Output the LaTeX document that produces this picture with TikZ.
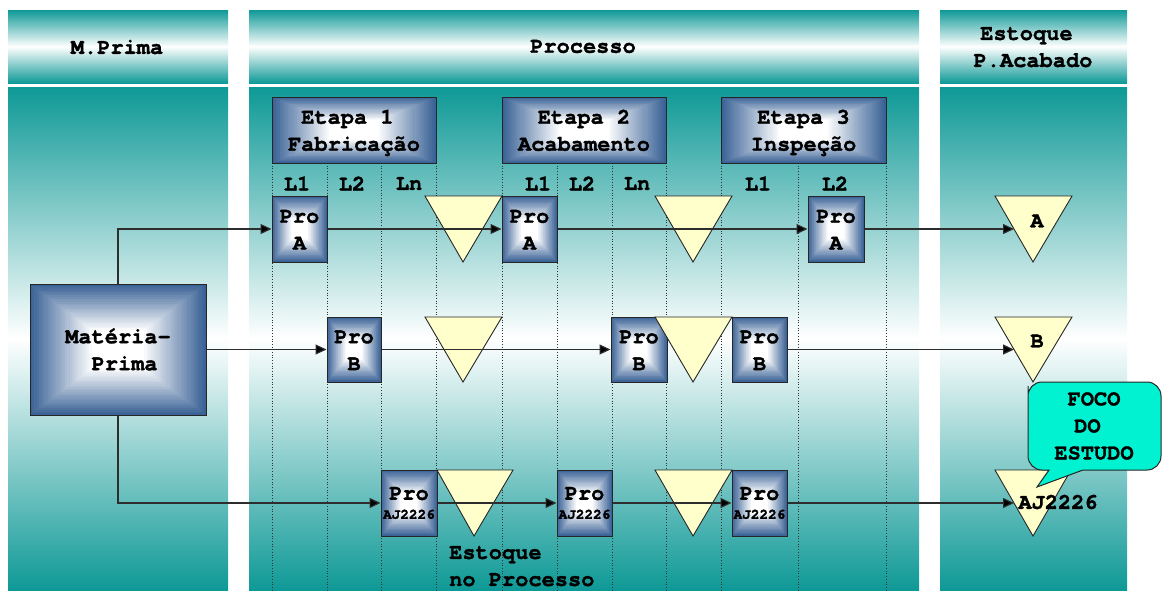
\documentclass[tikz,border=0pt]{standalone}
\usepackage{fontspec}
\setmainfont{TeX Gyre Cursor}[BoldFeatures={FakeBold=1.5}]
\usetikzlibrary{calc,arrows.meta}
\definecolor{tealc}{RGB}{14,153,150}
\definecolor{boxblue}{RGB}{58,98,150}
\definecolor{triy}{RGB}{255,255,204}
\definecolor{aquac}{RGB}{0,242,208}
\definecolor{linec}{RGB}{45,45,45}
\newcommand\tstrut{\rule{0pt}{22.5pt}}
\begin{document}
\begin{tikzpicture}[x=1pt,y=-1pt,
  every node/.style={font=\fontsize{22}{27}\selectfont\bfseries, inner sep=0pt, text=black},
  gbox/.style={draw=black!85, line width=1pt, align=center, path picture={
      \foreach \k in {0,...,39}{
        \pgfmathtruncatemacro\wc{min(100,\k*100/28)}
        \fill[white!\wc!boxblue] ($(path picture bounding box.south west)!\k/40!(path picture bounding box.center)$) rectangle ($(path picture bounding box.north east)!\k/40!(path picture bounding box.center)$);
      }}},
  tri/.style={draw=black!85, line width=0.9pt, fill=triy},
  arr/.style={draw=linec, line width=1.2pt, -{Triangle[length=11pt,width=10pt,fill=black]}},
  vdot/.style={draw=black!80, dotted, line width=0.7pt},
  colshade/.style={top color=tealc, bottom color=tealc, middle color=white}
]
\useasboundingbox (0,0) rectangle (1164,590);
\fill[white] (0,0) rectangle (1164,590);
% headers
\shade[colshade] (8,10) rectangle (228,83);
\shade[colshade] (249,10) rectangle (919,83);
\shade[colshade] (940,10) rectangle (1127,83);
% bodies
\shade[colshade] (8,87) rectangle (228,590);
\shade[colshade] (249,87) rectangle (919,590);
\shade[colshade] (940,87) rectangle (1127,590);
% header texts
\node (hmp) at (117,47) {M.Prima};
\node (hpr) at (583,46.5) {Processo};
\node (hes) at (1033,48) [align=center] {Estoque\phantom{x}\strut\\P.Acabado\strut};
% dotted lane lines
\foreach \x in {272,327,381,436,502,557,612,666,721,798,886}{
  \draw[vdot] (\x,163) -- (\x,590);
}
% stage boxes
\node[gbox, minimum width=164pt, minimum height=66pt] (e1) at (354,130) {Etapa 1\phantom{x}\tstrut\\Fabricação\strut};
\node[gbox, minimum width=164pt, minimum height=66pt] (e2) at (584,130) {Etapa 2\tstrut\\Acabamento\strut};
\node[gbox, minimum width=165pt, minimum height=66pt] (e3) at (803.5,130) {Etapa 3\tstrut\\Inspeção\strut};
% lane labels
\node (l11) at (297,183.5) {L1};
\node (l12) at (352,183.5) {L2};
\node (l1n) at (409,183.5) {Ln};
\node (l21) at (538,183.5) {L1};
\node (l22) at (582,183.5) {L2};
\node (l2n) at (637,183.5) {Ln};
\node (l31) at (758,183.5) {L1};
\node (l32) at (835,183.5) {L2};
% raw material
\node[gbox, minimum width=176pt, minimum height=131pt] (mp) at (118,349.5) {Matéria-\tstrut\\\phantom{x}Prima\strut};
% process boxes
\node[gbox, minimum width=55pt, minimum height=66pt] (pA1) at (299.5,229) {Pro\tstrut\\A\strut};
\node[gbox, minimum width=55pt, minimum height=66pt] (pA2) at (529.5,229) {Pro\tstrut\\A\strut};
\node[gbox, minimum width=56pt, minimum height=66pt] (pA3) at (836,229) {Pro\tstrut\\A\strut};
\node[gbox, minimum width=54pt, minimum height=65pt] (pB1) at (354,349.5) {Pro\tstrut\\B\strut};
\node[gbox, minimum width=56pt, minimum height=65pt] (pB2) at (639,349.5) {Pro\tstrut\\B\strut};
\node[gbox, minimum width=55pt, minimum height=65pt] (pB3) at (759.5,349.5) {Pro\tstrut\\B\strut};
\node[gbox, minimum width=56pt, minimum height=66pt] (pC1) at (409,503) {Pro\\[-8pt]{\fontsize{14.4}{17}\selectfont AJ2226}};
\node[gbox, minimum width=55pt, minimum height=66pt] (pC2) at (584.5,503) {Pro\\[-8pt]{\fontsize{14.4}{17}\selectfont AJ2226}};
\node[gbox, minimum width=55pt, minimum height=66pt] (pC3) at (759.5,503) {Pro\\[-8pt]{\fontsize{14.4}{17}\selectfont AJ2226}};
% inventory triangles
\draw[tri] (425,196) -- (502,196) -- (463,262) -- cycle;
\draw[tri] (655,196) -- (732,196) -- (693,262) -- cycle;
\draw[tri] (995,196) -- (1072,196) -- (1033,262) -- cycle;
\draw[tri] (425,317) -- (502,317) -- (463,382) -- cycle;
\draw[tri] (655,317) -- (732,317) -- (693,382) -- cycle;
\draw[tri] (995,317) -- (1072,317) -- (1033,382) -- cycle;
\draw[tri] (437,470) -- (513,470) -- (474,536) -- cycle;
\draw[tri] (655,470) -- (732,470) -- (693,536) -- cycle;
\draw[tri] (995,470) -- (1071,470) -- (1033,536) -- cycle;
\coordinate (tA) at (1014,229);
\coordinate (tB) at (1014,349.5);
\coordinate (tC) at (1014,503);
% connectors
\draw[arr] (mp.north) |- (pA1.west);
\draw[arr] (pA1.east) -- (pA2.west);
\draw[arr] (pA2.east) -- (pA3.west);
\draw[arr] (pA3.east) -- (tA);
\draw[arr] (mp.east) -- (pB1.west);
\draw[arr] (pB1.east) -- (pB2.west);
\draw[arr] (pB3.east) -- (tB);
\draw[arr] (mp.south) |- (pC1.west);
\draw[arr] (pC1.east) -- (pC2.west);
\draw[arr] (pC2.east) -- (pC3.west);
\draw[arr] (pC3.east) -- (tC);
% final stock labels
\node (sA) at (1037,221) {A};
\node (sB) at (1037,341) {B};
% callout
\draw[fill=aquac, draw=black!85, line width=1pt] (1028,400) [rounded corners=14pt] -- (1028,382) -- (1161,382) -- (1161,470) [sharp corners] -- (1083,470) -- (1037,487) -- (1049,470) [rounded corners=14pt] -- (1028,470) -- cycle;
\node[align=center] (foco) at (1094,427) {FOCO\strut\\DO\phantom{x}\strut\\ESTUDO\strut};
\node (sC) at (1058,502) {AJ2226};
% process stock label
\node[align=left, anchor=west] (ep) at (449,567) {Estoque\strut\\no Processo\strut};
\end{tikzpicture}
\end{document}
